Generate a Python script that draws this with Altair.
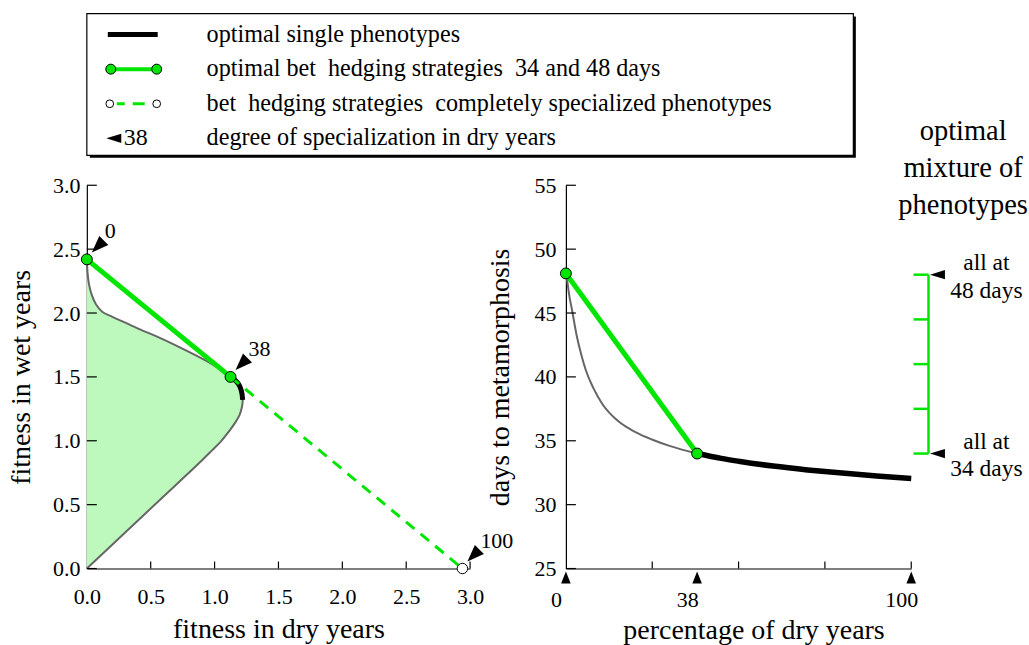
import altair as alt
import pandas as pd

FONT = "Liberation Serif"
GREEN = "#00e600"
FILL_GREEN = "#bdf9bd"
GREY = "#666666"

# ---------------- data ----------------
# Left panel: boundary of attainable (fitness in dry years, fitness in wet years)
lower_dry = [0.0, 0.3, 0.6, 0.9, 0.98, 1.05, 1.11, 1.16, 1.195, 1.213, 1.22]
lower_wet = [0.0, 0.282, 0.564, 0.846, 0.925, 0.995, 1.07, 1.14, 1.20, 1.26, 1.32]
single_dry = [1.22, 1.21, 1.19, 1.16, 1.125]
single_wet = [1.32, 1.39, 1.44, 1.475, 1.50]
upper_dry = [1.125, 1.06, 0.98, 0.85, 0.7, 0.55, 0.42, 0.3, 0.2, 0.12, 0.07, 0.036, 0.016, 0.006, 0.0]
upper_wet = [1.50, 1.55, 1.60, 1.67, 1.745, 1.815, 1.87, 1.925, 1.97, 2.01, 2.07, 2.15, 2.23, 2.31, 2.42]
hedge_dry = [0.0, 1.125]
hedge_wet = [2.42, 1.50]
special_dry = [1.125, 2.94]
special_wet = [1.50, 0.0]
spec_labels = ["0", "38", "100"]
spec_dry = [0.0, 1.125, 2.94]
spec_wet = [2.42, 1.50, 0.0]
left_ticks = [0.0, 0.5, 1.0, 1.5, 2.0, 2.5, 3.0]

# Right panel: days to metamorphosis vs percentage of dry years
grey_pct = [0, 0.4, 0.9, 1.8, 3.0, 4.5, 5.8, 8.0, 10.5, 15.3, 20, 24.9, 30, 38]
grey_days = [48.1, 47.5, 46.5, 45.2, 43.4, 41.7, 40.5, 39.1, 37.9, 36.5, 35.7, 35.1, 34.6, 34.0]
single_pct = [38, 45, 50, 60, 70, 80, 90, 100]
single_days = [34.0, 33.62, 33.4, 33.02, 32.72, 32.47, 32.25, 32.05]
hedge_pct = [0, 38]
hedge_days = [48.1, 34.0]
right_yticks = [25, 30, 35, 40, 45, 50, 55]
right_minor = [25, 50, 75, 100]
right_marks = [0, 38, 100]
mixture_days = [34.0, 37.5, 41.0, 44.5, 48.0]
mixture_ends = [48, 34]

legend_labels = [
    "optimal single phenotypes",
    "optimal bet \u00a0hedging strategies \u00a034 and 48 days",
    "bet \u00a0hedging strategies \u00a0completely specialized phenotypes",
    "degree of specialization in dry years",
]
legend_kinds = ["single", "hedge", "special", "spec"]

TRI_LEFT = "M-1,0L1,-0.62L1,0.62Z"
TRI_FAT = "M-1,0L1,-0.75L1,0.75Z"
TRI_UP = "M0,-1L-0.8,1L0.8,1Z"
CURVE = "catmull-rom"

# ---------------- left panel ----------------
axXL = alt.Axis(values=left_ticks, format=".1f", title="fitness in dry years",
                labelPadding=18, titlePadding=8)
axYL = alt.Axis(values=left_ticks, format=".1f", title="fitness in wet years",
                labelPadding=7, titlePadding=17)
sxL = alt.Scale(domain=[0, 3], nice=False, zero=False)
syL = alt.Scale(domain=[0, 3], nice=False, zero=False)


def XL():
    return alt.X("fd:Q", scale=sxL, axis=axXL, stack=None)


def YL():
    return alt.Y("fw:Q", scale=syL, axis=axYL)


front = pd.DataFrame({
    "fd": lower_dry + single_dry[1:] + upper_dry[1:],
    "fw": lower_wet + single_wet[1:] + upper_wet[1:],
})
front["i"] = range(len(front))
single_l = pd.DataFrame({"fd": single_dry, "fw": single_wet, "i": range(len(single_dry))})
hedge_l = pd.DataFrame({"fd": hedge_dry, "fw": hedge_wet})
special_l = pd.DataFrame({"fd": special_dry, "fw": special_wet})
spec_l = pd.DataFrame({"fd": spec_dry, "fw": spec_wet, "lab": spec_labels})
ytick_l = pd.DataFrame({"fw": left_ticks})
xtick_l = pd.DataFrame({"fd": left_ticks[1:]})

l_area = alt.Chart(front).mark_area(orient="horizontal", color=FILL_GREEN, opacity=1,
                                    interpolate=CURVE).encode(x=XL(), y=YL())
l_grey = alt.Chart(front).mark_line(color=GREY, strokeWidth=2, interpolate=CURVE).encode(
    x=XL(), y=YL(), order="i:Q")
l_single = alt.Chart(single_l).mark_line(color="black", strokeWidth=5, interpolate=CURVE).encode(
    x=XL(), y=YL(), order="i:Q")
l_dash = alt.Chart(special_l).mark_line(color=GREEN, strokeWidth=3, strokeDash=[11, 8]).encode(x=XL(), y=YL())
l_hedge = alt.Chart(hedge_l).mark_line(color=GREEN, strokeWidth=5).encode(x=XL(), y=YL())
l_open = alt.Chart(special_l.iloc[[1]]).mark_circle(fill="white", stroke="black", strokeWidth=1, size=110,
                                                   opacity=1).encode(x=XL(), y=YL())
l_pts = alt.Chart(hedge_l).mark_circle(fill=GREEN, stroke="black", strokeWidth=1, size=120, opacity=1).encode(
    x=XL(), y=YL())
l_tri = alt.Chart(spec_l).mark_point(shape=TRI_FAT, angle=315, filled=True, color="black", size=289,
                                     opacity=1, xOffset=11, yOffset=-13).encode(x=XL(), y=YL())
l_lab = alt.Chart(spec_l).mark_text(align="left", baseline="middle", dx=18, dy=-28, fontSize=22,
                                    font=FONT, color="black").encode(x=XL(), y=YL(), text="lab:N")
l_yt = alt.Chart(ytick_l).mark_rule(color="black", strokeWidth=1.2).encode(
    y=YL(), x=alt.value(0), x2=alt.value(10))
l_xt = alt.Chart(xtick_l).mark_rule(color="black", strokeWidth=1.2).encode(
    x=XL(), y=alt.value(384), y2=alt.value(377))

left = alt.layer(l_area, l_grey, l_single, l_dash, l_hedge, l_open, l_pts, l_tri, l_lab, l_yt, l_xt
                 ).properties(width=384, height=384)

# ---------------- right panel ----------------
axXR = alt.Axis(values=right_marks, format="d", title="percentage of dry years",
                labelPadding=21, titlePadding=6, labelOffset=-10, titleX=188)
axYR = alt.Axis(values=right_yticks, format="d", title="days to metamorphosis",
                labelPadding=10, titlePadding=20)
sxR = alt.Scale(domain=[0, 100], nice=False, zero=False)
syR = alt.Scale(domain=[25, 55], nice=False, zero=False)


def XR():
    return alt.X("pct:Q", scale=sxR, axis=axXR)


def YR():
    return alt.Y("days:Q", scale=syR, axis=axYR)


grey_r = pd.DataFrame({"pct": grey_pct, "days": grey_days, "i": range(len(grey_pct))})
single_r = pd.DataFrame({"pct": single_pct, "days": single_days, "i": range(len(single_pct))})
hedge_r = pd.DataFrame({"pct": hedge_pct, "days": hedge_days})
ytick_r = pd.DataFrame({"days": right_yticks})
xtick_r = pd.DataFrame({"pct": right_minor})
marks_r = pd.DataFrame({"pct": right_marks})
mix_r = pd.DataFrame({"days": mixture_days})
mix_line = pd.DataFrame({"days": [min(mixture_days)], "days_hi": [max(mixture_days)]})
ends_r = pd.DataFrame({"days": mixture_ends, "t": [f"all at\n{d} days" for d in mixture_ends]})
head_r = pd.DataFrame({"t": ["optimal\nmixture of\nphenotypes"]})

MIX_X = 105  # position of the mixture scale, just right of the axis end

r_grey = alt.Chart(grey_r).mark_line(color=GREY, strokeWidth=2, interpolate="monotone").encode(
    x=XR(), y=YR(), order="i:Q")
r_single = alt.Chart(single_r).mark_line(color="black", strokeWidth=5.5, interpolate="monotone").encode(
    x=XR(), y=YR(), order="i:Q")
r_hedge = alt.Chart(hedge_r).mark_line(color=GREEN, strokeWidth=5).encode(x=XR(), y=YR())
r_pts = alt.Chart(hedge_r).mark_circle(fill=GREEN, stroke="black", strokeWidth=1, size=120, opacity=1).encode(
    x=XR(), y=YR())
r_yt = alt.Chart(ytick_r).mark_rule(color="black", strokeWidth=1.2).encode(
    y=YR(), x=alt.value(0), x2=alt.value(10))
r_xt = alt.Chart(xtick_r).mark_rule(color="black", strokeWidth=1.2).encode(
    x=XR(), y=alt.value(384), y2=alt.value(377))
r_tri = alt.Chart(marks_r).mark_point(shape=TRI_UP, filled=True, color="black", size=144, opacity=1,
                                      yOffset=9).encode(x=XR(), y=alt.value(384))
r_mix = alt.Chart(mix_line).mark_rule(color=GREEN, strokeWidth=2.5).encode(
    x=alt.X(datum=MIX_X, scale=sxR), y=YR(), y2="days_hi:Q")
r_mixt = alt.Chart(mix_r).mark_rule(color=GREEN, strokeWidth=2.5, x2Offset=-15).encode(
    x=alt.X(datum=MIX_X, scale=sxR), x2=alt.X2(datum=MIX_X), y=YR())
r_mtri = alt.Chart(ends_r).mark_point(shape=TRI_LEFT, filled=True, color="black", size=225, opacity=1,
                                      xOffset=9).encode(x=alt.X(datum=MIX_X, scale=sxR), y=YR())
r_mtxt = alt.Chart(ends_r).mark_text(align="center", baseline="middle", dx=58, dy=-12, fontSize=23.5,
                                     lineBreak="\n", lineHeight=28, font=FONT, color="black").encode(
    x=alt.X(datum=MIX_X, scale=sxR), y=YR(), text="t:N")
r_head = alt.Chart(head_r).mark_text(align="center", baseline="middle", fontSize=28.5, lineBreak="\n",
                                     lineHeight=37, font=FONT, color="black").encode(
    x=alt.value(398), y=alt.value(-54), text="t:N")

right = alt.layer(r_grey, r_single, r_hedge, r_pts, r_yt, r_xt, r_tri, r_mix, r_mixt, r_mtri, r_mtxt, r_head
                  ).properties(width=346, height=384)

# ---------------- legend box ----------------
LEG_W, LEG_H = 768, 142
leg = pd.DataFrame({"label": legend_labels, "kind": legend_kinds})
one = pd.DataFrame({"k": [0]})
ysc = alt.Scale(type="point", domain=legend_labels, range=[21, 125], padding=0)


def YG():
    return alt.Y("label:N", scale=ysc, axis=None)


def rows(kind):
    return alt.Chart(leg).transform_filter(alt.datum.kind == kind)


g_shadow = alt.Chart(one).mark_rect(color="black").encode(
    x=alt.value(3), x2=alt.value(LEG_W + 2.5), y=alt.value(3), y2=alt.value(LEG_H + 2.5))
g_box = alt.Chart(one).mark_rect(fill="white", stroke="black", strokeWidth=1.2).encode(
    x=alt.value(0), x2=alt.value(LEG_W), y=alt.value(0), y2=alt.value(LEG_H))
g_single = rows("single").mark_rule(color="black", strokeWidth=5).encode(
    y=YG(), x=alt.value(21), x2=alt.value(71))
g_hedge = rows("hedge").mark_rule(color=GREEN, strokeWidth=4).encode(
    y=YG(), x=alt.value(24), x2=alt.value(70))
g_hpt1 = rows("hedge").mark_circle(fill=GREEN, stroke="black", strokeWidth=1, size=100, opacity=1).encode(
    y=YG(), x=alt.value(24))
g_hpt2 = rows("hedge").mark_circle(fill=GREEN, stroke="black", strokeWidth=1, size=100, opacity=1).encode(
    y=YG(), x=alt.value(70))
g_sp = rows("special").mark_rule(color=GREEN, strokeWidth=3, strokeDash=[8, 8, 12, 20]).encode(
    y=YG(), x=alt.value(30), x2=alt.value(58))
g_spt1 = rows("special").mark_circle(fill="white", stroke="black", strokeWidth=1, size=60, opacity=1).encode(
    y=YG(), x=alt.value(23))
g_spt2 = rows("special").mark_circle(fill="white", stroke="black", strokeWidth=1, size=60, opacity=1).encode(
    y=YG(), x=alt.value(70))
g_tri = rows("spec").mark_point(shape=TRI_LEFT, filled=True, color="black", size=225, opacity=1).encode(
    y=YG(), x=alt.value(27))
g_38 = rows("spec").mark_text(text=spec_labels[1], align="left", baseline="middle", fontSize=24,
                              font=FONT, color="black").encode(y=YG(), x=alt.value(37))
g_txt = alt.Chart(leg).mark_text(align="left", baseline="middle", fontSize=24.2, font=FONT,
                                 color="black").encode(y=YG(), x=alt.value(120), text="label:N")

legend = alt.layer(g_shadow, g_box, g_single, g_hedge, g_hpt1, g_hpt2, g_sp, g_spt1, g_spt2, g_tri, g_38, g_txt
                   ).properties(width=LEG_W, height=LEG_H)

chart = alt.vconcat(
    legend,
    alt.hconcat(left, right, spacing=96, bounds="flush"),
    spacing=30, bounds="flush",
).properties(
    padding={"left": 7, "top": 11, "right": 0, "bottom": 0},
    background="white",
).configure_view(
    stroke="transparent"
).configure_axis(
    labelFont=FONT, titleFont=FONT, labelFontSize=22, titleFontSize=28, titleFontWeight="normal",
    labelColor="black", titleColor="black", domainColor="black", domainWidth=1.2,
    grid=False, ticks=False, tickSize=0, labelFlush=False, labelOverlap=False,
)

chart.save("out.html", embed_options={"renderer": "svg", "actions": False})
